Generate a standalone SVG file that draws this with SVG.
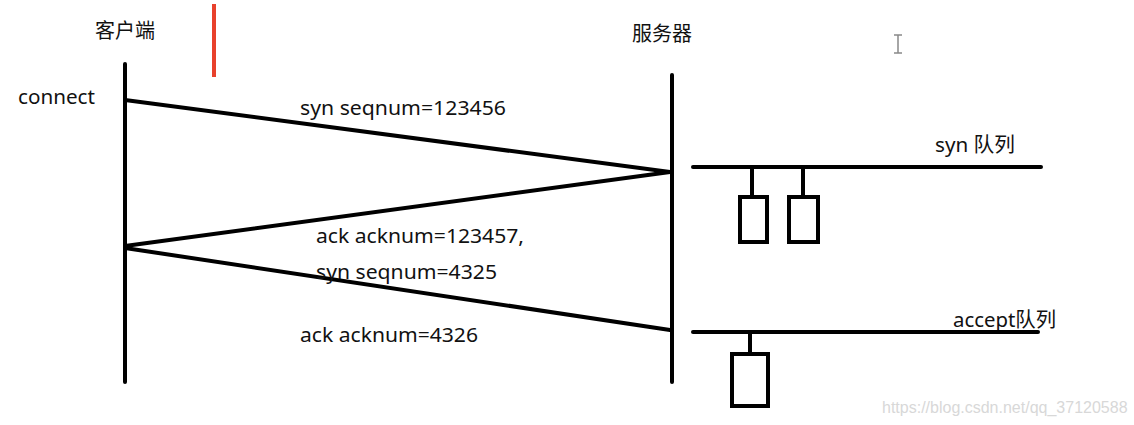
<svg xmlns="http://www.w3.org/2000/svg" width="1134" height="425" viewBox="0 0 1134 425">
<style>
.ln{stroke:#000;stroke-width:4;fill:none;stroke-linecap:round}
.bx{stroke:#000;stroke-width:4;fill:#fff}
.t{font-family:"Noto Sans","Noto Sans CJK SC",sans-serif;font-size:20px;fill:#111}
.wm{font-family:"Liberation Sans",sans-serif;font-size:16px;fill:#d8d8d8}
</style>
<rect width="1134" height="425" fill="#fff"/>
<g id="client">
<text class="t" x="95" y="38">客户端</text>
<line class="ln" x1="125" y1="64" x2="125" y2="382"/>
<text class="t" x="18" y="104" textLength="77" lengthAdjust="spacingAndGlyphs">connect</text>
</g>
<g id="server">
<text class="t" x="632" y="41">服务器</text>
<line class="ln" x1="672" y1="75" x2="672" y2="382"/>
</g>
<g id="marker-red">
<line x1="214" y1="4" x2="214" y2="77" stroke="#e8412c" stroke-width="4"/>
</g>
<g id="cursor" stroke="#888" stroke-width="1.5" fill="none">
<line x1="898" y1="35" x2="898" y2="53"/>
<line x1="894" y1="35" x2="902" y2="35"/>
<line x1="894" y1="53" x2="902" y2="53"/>
</g>
<g id="connectors">
<line class="ln" x1="125" y1="100" x2="670" y2="172"/>
<line class="ln" x1="670" y1="172" x2="125" y2="246"/>
<line class="ln" x1="125" y1="248" x2="670" y2="330"/>
</g>
<g id="labels">
<text class="t" x="300" y="115" textLength="206" lengthAdjust="spacingAndGlyphs">syn seqnum=123456</text>
<text class="t" x="316" y="243" textLength="208" lengthAdjust="spacingAndGlyphs">ack acknum=123457,</text>
<text class="t" x="316" y="279" textLength="181" lengthAdjust="spacingAndGlyphs">syn seqnum=4325</text>
<text class="t" x="300" y="342" textLength="178" lengthAdjust="spacingAndGlyphs">ack acknum=4326</text>
</g>
<g id="syn-queue">
<text class="t" x="935" y="152" textLength="80" lengthAdjust="spacingAndGlyphs">syn 队列</text>
<line class="ln" x1="693" y1="167" x2="1041" y2="167"/>
<line class="ln" x1="752" y1="167" x2="752" y2="196"/>
<line class="ln" x1="803" y1="167" x2="803" y2="196"/>
<rect class="bx" x="740" y="197" width="27" height="45"/>
<rect class="bx" x="789" y="197" width="29" height="45"/>
</g>
<g id="accept-queue">
<text class="t" x="953" y="327" textLength="103" lengthAdjust="spacingAndGlyphs">accept队列</text>
<line class="ln" x1="693" y1="332" x2="1038" y2="332"/>
<line class="ln" x1="750" y1="332" x2="750" y2="353"/>
<rect class="bx" x="732" y="354" width="36" height="52"/>
</g>
<text class="wm" x="882" y="413">https://blog.csdn.net/qq_37120588</text>
</svg>
